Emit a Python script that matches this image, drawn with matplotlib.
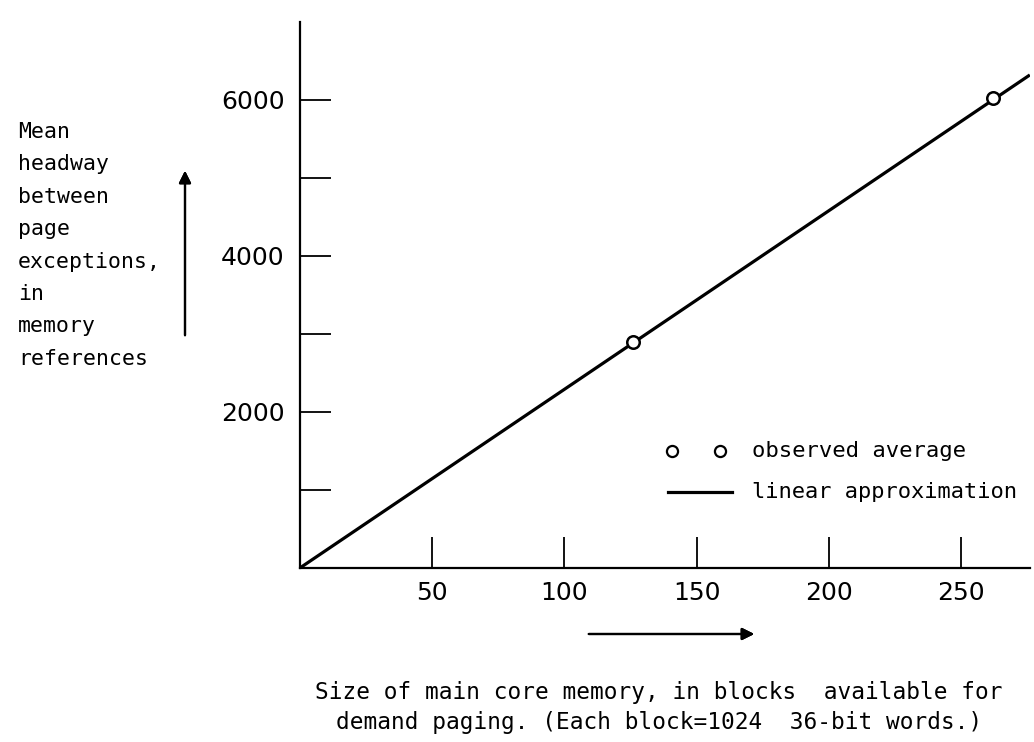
import matplotlib.pyplot as plt
from matplotlib.lines import Line2D

# observed average headway (blocks, memory references)
obs_blocks = [126, 262]
obs_headway = [2900, 6030]

# linear approximation through the origin
line_blocks = [0, 276]
line_headway = [0, 6320]

x_ticks = [50, 100, 150, 200, 250]
y_major = [2000, 4000, 6000]
y_minor = [1000, 3000, 5000]

ylabel_lines = ["Mean", "headway", "between", "page", "exceptions,",
                "in", "memory", "references"]

plt.rcParams['font.family'] = ['DejaVu Sans']
LETTER = 'DejaVu Sans Mono'

fig = plt.figure(figsize=(10.34, 7.42), dpi=100)
ax = fig.add_axes([0.290, 0.2345, 0.706, 0.736])

ax.plot(line_blocks, line_headway, color='black', lw=2.3, solid_capstyle='butt')
ax.plot(obs_blocks, obs_headway, 'o', ms=9, mfc='white', mec='black', mew=1.8)

ax.set_xlim(0, 276)
ax.set_ylim(0, 7000)
ax.spines['top'].set_visible(False)
ax.spines['right'].set_visible(False)
for s in ('left', 'bottom'):
    ax.spines[s].set_linewidth(1.6)

ax.set_xticks(x_ticks)
ax.set_yticks(y_major)
ax.set_yticks(y_minor, minor=True)
ax.tick_params(axis='both', which='major', direction='in', length=22, width=1.3,
               labelsize=18, pad=11)
ax.tick_params(axis='y', which='minor', direction='in', length=22, width=1.3)
ax.tick_params(axis='x', which='major', pad=9)

# legend drawn by hand, as in the original
fig.add_artist(Line2D([672 / 1034], [1 - 451 / 742], marker='o', ms=8,
                      mfc='white', mec='black', mew=1.6, ls='none'))
fig.add_artist(Line2D([720 / 1034], [1 - 451 / 742], marker='o', ms=8,
                      mfc='white', mec='black', mew=1.6, ls='none'))
fig.text(752 / 1034, 1 - 451 / 742, "observed average", fontsize=16,
         family=LETTER, va='center', ha='left')
fig.add_artist(Line2D([668 / 1034, 732 / 1034], [1 - 492 / 742, 1 - 492 / 742],
                      color='black', lw=2.3))
fig.text(752 / 1034, 1 - 492 / 742, "linear approximation", fontsize=15.8,
         family=LETTER, va='center', ha='left')

# y-axis label, one word per line
for i, word in enumerate(ylabel_lines):
    fig.text(18 / 1034, 1 - (132 + i * 32.4) / 742, word, fontsize=15.5,
             family=LETTER, va='center', ha='left')

# direction arrows
fig.add_artist(plt.annotate('', xy=(185 / 1034, 1 - 168 / 742),
                            xytext=(185 / 1034, 1 - 338 / 742),
                            xycoords='figure fraction',
                            arrowprops=dict(arrowstyle='-|>', color='black',
                                            lw=1.6, mutation_scale=18)))
fig.add_artist(plt.annotate('', xy=(757 / 1034, 1 - 634 / 742),
                            xytext=(586 / 1034, 1 - 634 / 742),
                            xycoords='figure fraction',
                            arrowprops=dict(arrowstyle='-|>', color='black',
                                            lw=1.6, mutation_scale=18)))

fig.text(659 / 1034, 1 - 693 / 742,
         "Size of main core memory, in blocks  available for",
         fontsize=16.4, family=LETTER, ha='center', va='center')
fig.text(659 / 1034, 1 - 723 / 742,
         "demand paging. (Each block=1024  36-bit words.)",
         fontsize=16.4, family=LETTER, ha='center', va='center')

fig.savefig('out.png', dpi=100)
